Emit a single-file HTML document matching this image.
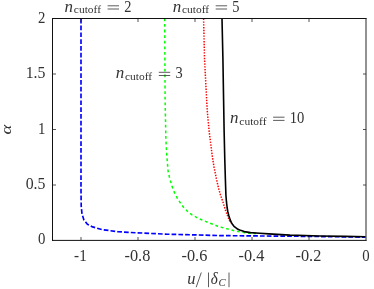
<!DOCTYPE html>
<html><head><meta charset="utf-8">
<style>
html,body{margin:0;padding:0;background:#fff;}
body{width:374px;height:289px;overflow:hidden;}
svg{display:block;will-change:transform;}
text{font-family:"Liberation Serif",serif;fill:#333;}
.i{font-style:italic;}
</style></head><body>
<svg width="374" height="289" viewBox="0 0 374 289">
<rect width="374" height="289" fill="#fff"/>
<g fill="none" stroke-linejoin="round">
<path d="M81,18.8 L81,190 L81.2,206 L82,214 L83.9,220 L87.4,224.2 L92.7,226.9 L102,229.6 L118,231.7 L136.8,232.8 L167.6,234.2 L195,234.9 L220,235.6 L252,235.9 L300,236.3 L340,236.8 L365.5,237.2" stroke="#0000ff" stroke-width="1.65" stroke-dasharray="4.7 2.1"/>
<path d="M164.7,18.4 L165.1,100 L165.9,140 L166.8,155.5 L167.5,164 L168.1,171.1 L169.4,177 L170.6,181.5 L172.1,186.6 L173.7,190.8 L175.6,195 L177.6,198.7 L179.9,202.2 L183.5,207.3 L187.6,211.5 L192,214.8 L197,217.7 L203,220.4 L209.4,222.9 L217.8,226.2 L225.6,228.5 L233.4,230.5 L241.2,232.1 L248.9,233.2 L256,233.6" stroke="#00ff00" stroke-width="1.5" stroke-dasharray="2.8 2.8"/>
<path d="M203.6,18.6 L204.5,58 L205.6,80 L207.2,110 L209,130 L210.5,142 L212,154.2 L214,167 L216.3,178.4 L218.5,188 L220.5,195 L223.2,202.8 L225.6,210.6 L227.9,216.8 L229.5,220.7 L231,223" stroke="#ff0000" stroke-width="1.5" stroke-dasharray="1.4 1.4"/>
<path d="M222,18.5 L222.9,58 L223.6,100 L224.1,130 L224.8,160 L225.4,180 L225.9,195 L226.4,201.2 L227.1,207.5 L227.8,211.5 L228.7,215.2 L230.2,219.9 L231.3,222.4 L232.6,224.6 L234,226.3 L235.7,227.7 L237.5,229 L239.6,230 L244.3,231.6 L250.5,232.6 L259.8,233.3 L268.8,233.9 L290,235.1 L320,236 L345,236.4 L365.5,236.7" stroke="#000" stroke-width="1.6"/>
</g>
<path d="M52.5,18V240.9M52,18.5H366.5M52,240.4H366.5" fill="none" stroke="#111" stroke-width="1"/><path d="M366,18V240.9" fill="none" stroke="#262626" stroke-width="1"/>
<g stroke="#262626" stroke-width="0.8">
<path d="M81,240v-3M138,240v-3M195,240v-3M252,240v-3M309,240v-3M81,19v3M138,19v3M195,19v3M252,19v3M309,19v3"/>
<path d="M52.5,185h3.5M52.5,129.5h3.5M52.5,74h3.5M366,185h-3M366,129.5h-3M366,74h-3"/>
</g>
<text x="38.1" y="23.1" font-size="16" textLength="7.4" lengthAdjust="spacingAndGlyphs">2</text>
<text x="25.7" y="78.3" font-size="16" textLength="19.8" lengthAdjust="spacingAndGlyphs">1.5</text>
<text x="38.1" y="133.6" font-size="16" textLength="7.4" lengthAdjust="spacingAndGlyphs">1</text>
<text x="25.7" y="188.8" font-size="16" textLength="19.8" lengthAdjust="spacingAndGlyphs">0.5</text>
<text x="38.1" y="244.1" font-size="16" textLength="7.4" lengthAdjust="spacingAndGlyphs">0</text>
<text x="74.1" y="261.2" font-size="16" textLength="12.6" lengthAdjust="spacingAndGlyphs">-1</text>
<text x="124.5" y="261.2" font-size="16" textLength="25.8" lengthAdjust="spacingAndGlyphs">-0.8</text>
<text x="181.5" y="261.2" font-size="16" textLength="25.8" lengthAdjust="spacingAndGlyphs">-0.6</text>
<text x="238.5" y="261.2" font-size="16" textLength="25.8" lengthAdjust="spacingAndGlyphs">-0.4</text>
<text x="295.5" y="261.2" font-size="16" textLength="25.8" lengthAdjust="spacingAndGlyphs">-0.2</text>
<text x="362.3" y="261.2" font-size="16" textLength="7.4" lengthAdjust="spacingAndGlyphs">0</text>
<text class="i" font-size="15.5" transform="translate(10.7,129.6) rotate(-90) scale(1.2,1)" text-anchor="middle">α</text>
<g>
<text class="i" x="187.3" y="284.3" font-size="16.5" textLength="8.2" lengthAdjust="spacingAndGlyphs">u</text>
<path d="M196.2,287.2L201.3,272.5M208.5,272.5V287.2M229,272.5V287.2" stroke="#333" stroke-width="0.8" fill="none"/>
<text class="i" x="210.7" y="284.3" font-size="15.8" textLength="7.0" lengthAdjust="spacingAndGlyphs">δ</text>
<text class="i" x="218.6" y="286.2" font-size="10.8" textLength="7.2" lengthAdjust="spacingAndGlyphs">C</text>
</g>
<text x="64.6" y="11.5" font-size="16.5" font-style="italic" textLength="8.5" lengthAdjust="spacingAndGlyphs">n</text><text x="73.8" y="13.4" font-size="11" textLength="27.2" lengthAdjust="spacingAndGlyphs">cutoff</text><path d="M107.6,5.8h11.4M107.6,9.0h11.4" stroke="#333" stroke-width="0.8" fill="none"/><text x="124.2" y="11.7" font-size="16" textLength="7.2" lengthAdjust="spacingAndGlyphs">2</text>
<text x="172.7" y="11.5" font-size="16.5" font-style="italic" textLength="8.5" lengthAdjust="spacingAndGlyphs">n</text><text x="181.9" y="13.4" font-size="11" textLength="27.2" lengthAdjust="spacingAndGlyphs">cutoff</text><path d="M215.7,5.8h11.4M215.7,9.0h11.4" stroke="#333" stroke-width="0.8" fill="none"/><text x="232.3" y="11.7" font-size="16" textLength="7.2" lengthAdjust="spacingAndGlyphs">5</text>
<text x="115.8" y="78" font-size="16.5" font-style="italic" textLength="8.5" lengthAdjust="spacingAndGlyphs">n</text><text x="125.0" y="79.9" font-size="11" textLength="27.2" lengthAdjust="spacingAndGlyphs">cutoff</text><path d="M158.8,72.3h11.4M158.8,75.5h11.4" stroke="#333" stroke-width="0.8" fill="none"/><text x="175.4" y="78.2" font-size="16" textLength="7.2" lengthAdjust="spacingAndGlyphs">3</text>
<text x="230.1" y="122.9" font-size="16.5" font-style="italic" textLength="8.5" lengthAdjust="spacingAndGlyphs">n</text><text x="239.3" y="124.8" font-size="11" textLength="27.2" lengthAdjust="spacingAndGlyphs">cutoff</text><path d="M273.1,117.2h11.4M273.1,120.4h11.4" stroke="#333" stroke-width="0.8" fill="none"/><text x="289.7" y="123.10000000000001" font-size="16" textLength="14.6" lengthAdjust="spacingAndGlyphs">10</text>
</svg>
</body></html>
